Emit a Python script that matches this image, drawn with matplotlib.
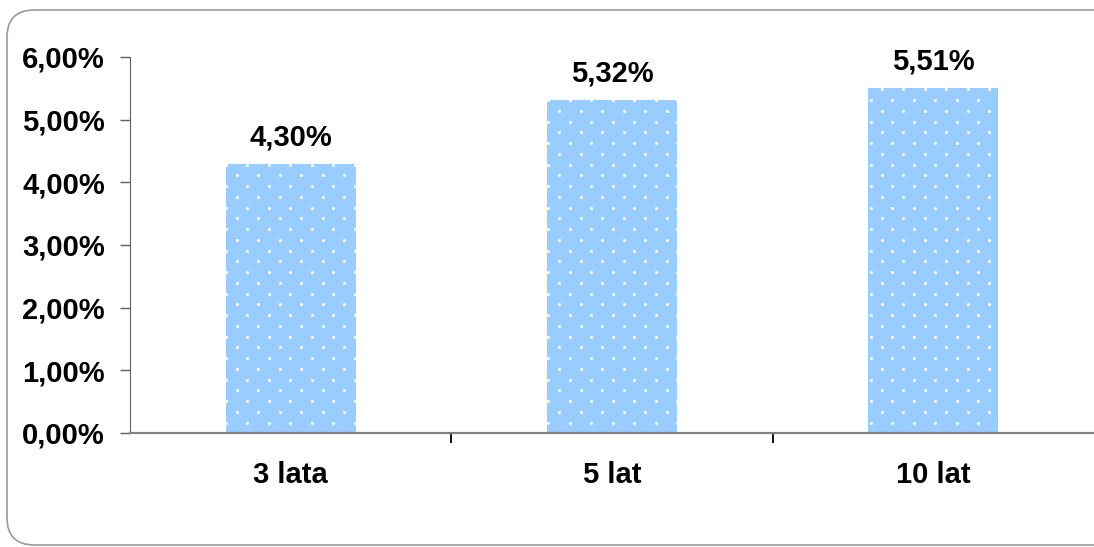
import numpy as np
import matplotlib.pyplot as plt
from matplotlib.patches import FancyBboxPatch
from matplotlib.transforms import IdentityTransform
from matplotlib.ticker import FuncFormatter, FixedLocator

plt.rcParams['font.family'] = ['Liberation Sans', 'DejaVu Sans']
plt.rcParams['font.weight'] = 'bold'

okresy = ['3 lata', '5 lat', '10 lat']
stopy = [4.30, 5.32, 5.51]
etykiety = ['4,30%', '5,32%', '5,51%']

W, H = 1094, 547
fig = plt.figure(figsize=(W / 100, H / 100), dpi=100)

# zaokrąglona ramka wokół wykresu (prawa krawędź wychodzi poza obraz)
ramka = FancyBboxPatch((7 / W, 2 / H), 1.2, (H - 12) / H,
                       boxstyle='round,pad=0,rounding_size=0.025',
                       transform=fig.transFigure, facecolor='none',
                       edgecolor='#9a9a9a', linewidth=1.2, zorder=-1,
                       mutation_aspect=W / H)
fig.patches.append(ramka)

ax = fig.add_axes([130 / W, 1 - 433 / H, (W - 130) / W, (433 - 57) / H])
ax.patch.set_alpha(0)

x = np.arange(len(okresy))
slupki = ax.bar(x, stopy, width=0.405, color='#99ccff', edgecolor='none', zorder=2)

for xi, v, t in zip(x, stopy, etykiety):
    ax.annotate(t, (xi, v), xytext=(0, 13), textcoords='offset points',
                ha='center', va='baseline', fontsize=21, fontweight='bold')

ax.set_xlim(-0.5, 2.5)
ax.set_ylim(0, 6)
ax.yaxis.set_major_locator(FixedLocator([0, 1, 2, 3, 4, 5, 6]))
ax.yaxis.set_major_formatter(FuncFormatter(lambda v, p: f'{v:.2f}%'.replace('.', ',')))
ax.tick_params(axis='y', length=7, width=1, color='#606060', pad=11, labelsize=21)

# kategorie jako etykiety podrzędne, kreski między kategoriami
ax.set_xticks([0.5, 1.5])
ax.set_xticklabels([])
ax.tick_params(axis='x', length=7, width=1.3, color='black', direction='out')
ax.set_xticks(x, minor=True)
ax.set_xticklabels(okresy, minor=True, fontsize=21, fontweight='bold')
ax.tick_params(axis='x', which='minor', length=0, pad=20)

for s in ['top', 'right']:
    ax.spines[s].set_visible(False)
ax.spines['left'].set_color('#606060')
ax.spines['bottom'].set_color('#808080')
ax.spines['bottom'].set_linewidth(1.6)

# wzór z białych kropek (siatka przestawiona, w pikselach), przycięty do słupków
dx, dy = 21.5, 10.75
px, py = [], []
for k in range(60):
    yk = H - (100 + (k - 10) * dy)
    x0 = 10.5 if k % 2 == 0 else 0.0
    xs = np.arange(x0, W, dx)
    px.extend(xs)
    py.extend([yk] * len(xs))
for s in slupki:
    kropki = ax.scatter(px, py, s=5, c='white', linewidths=0,
                        transform=IdentityTransform(), zorder=2.1)
    kropki.set_clip_path(s)

fig.savefig('out.png', dpi=100)
